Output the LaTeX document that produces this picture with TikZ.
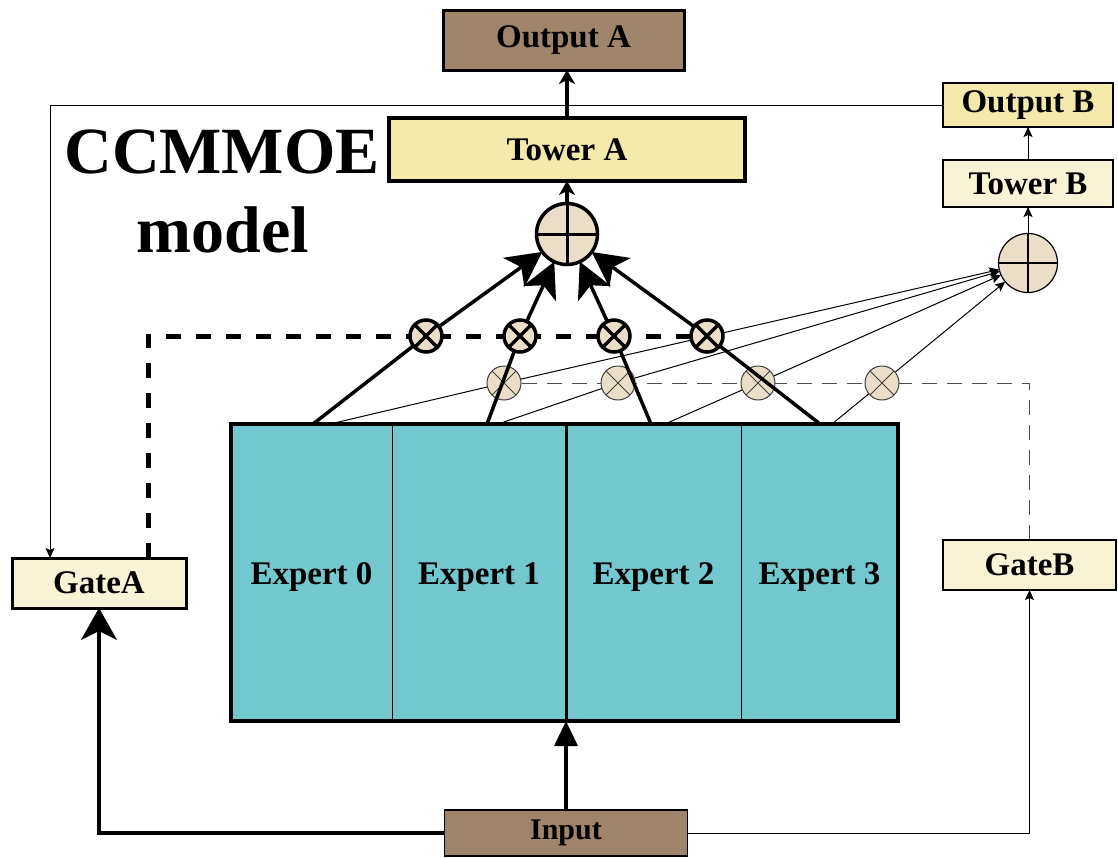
\documentclass[tikz,border=0pt]{standalone}
\usepackage{fontspec}
\setmainfont{Liberation Serif}
\usetikzlibrary{arrows.meta}
\definecolor{brownbox}{RGB}{158,132,104}
\definecolor{yel}{RGB}{242,233,170}
\definecolor{pale}{RGB}{249,243,214}
\definecolor{teal2}{RGB}{115,199,206}
\definecolor{beige}{RGB}{235,222,200}
\pgfdeclarelayer{bg}
\pgfdeclarelayer{front}
\pgfsetlayers{bg,main,front}
\tikzset{
  lbl/.style={font=\fontsize{33}{36}\selectfont\bfseries, inner sep=0pt, outer sep=0pt},
  thickbox/.style={lbl, draw, line width=3pt},
  thinbox/.style={lbl, draw, line width=1.2pt},
  expert/.style={lbl, fill=teal2, minimum height=297pt, text height=24pt, text depth=0pt},
  title/.style={font=\fontsize{66}{70}\selectfont\bfseries, inner sep=0pt},
  multA/.style={circle, draw, line width=3.5pt, fill=beige, minimum size=32pt, inner sep=0pt, outer sep=0pt,
    path picture={\draw[line width=3.5pt] (path picture bounding box.south west) -- (path picture bounding box.north east)
      (path picture bounding box.north west) -- (path picture bounding box.south east);}},
  multB/.style={circle, draw=black!75, line width=1pt, fill=beige, minimum size=34pt, inner sep=0pt, outer sep=0pt,
    path picture={\draw[line width=1pt] (path picture bounding box.south west) -- (path picture bounding box.north east)
      (path picture bounding box.north west) -- (path picture bounding box.south east);}},
  plusA/.style={circle, draw, line width=3.5pt, fill=beige, minimum size=61pt, inner sep=0pt, outer sep=0pt,
    path picture={\draw[line width=3pt] (path picture bounding box.west) -- (path picture bounding box.east)
      (path picture bounding box.north) -- (path picture bounding box.south);}},
  plusB/.style={circle, draw, line width=1.2pt, fill=beige, minimum size=59pt, inner sep=0pt, outer sep=0pt,
    path picture={\draw[line width=1.5pt] (path picture bounding box.west) -- (path picture bounding box.east)
      (path picture bounding box.north) -- (path picture bounding box.south);}},
  thickline/.style={line width=3.5pt},
  thinline/.style={line width=1pt},
  bigtip/.style={-{Stealth[length=35pt,width=36pt,inset=9pt]}},
  smalltip/.style={-{Stealth[length=14pt,width=16pt,inset=4pt]}},
  thintip/.style={-{Stealth[length=10pt,width=9pt,inset=2pt]}},
  dashA/.style={line width=5pt, dash pattern=on 15pt off 15pt},
  dashB/.style={line width=1pt, draw=black!70, dash pattern=on 15pt off 10pt},
}
\begin{document}
\begin{tikzpicture}[x=1pt,y=-1pt]
\path[use as bounding box] (0,0) rectangle (1118,857);
\begin{pgfonlayer}{bg}
\fill[white] (0,0) rectangle (1118,857);
\end{pgfonlayer}

% boxes
\node[thickbox, fill=brownbox, minimum width=241pt, minimum height=60pt] (outA) at (563.5,40) {Output A};
\node[thickbox, line width=3.5pt, fill=yel, minimum width=356pt, minimum height=63pt] (towA) at (567,149.5) {Tower A};
\node[thinbox, fill=yel, minimum width=170pt, minimum height=44pt] (outB) at (1028,105) {Output B};
\node[thinbox, fill=pale, minimum width=170pt, minimum height=47pt] (towB) at (1028,183.5) {Tower B};
\node[thickbox, fill=pale, minimum width=174pt, minimum height=50pt] (gateA) at (99,583) {GateA};
\node[thinbox, fill=pale, minimum width=173pt, minimum height=50pt] (gateB) at (1029.5,565) {GateB};
\node[thinbox, fill=brownbox, minimum width=243pt, minimum height=46pt, font=\fontsize{30}{34}\selectfont\bfseries] (input) at (566,833) {Input};

% title
\node[title, anchor=base] (t1) at (222,173) {CCMMOE};
\node[title, anchor=base] (t2) at (223,252) {model};

% experts
\node[expert, minimum width=161pt] (e0) at (311.5,572.5) {Expert 0};
\node[expert, minimum width=174pt] (e1) at (479,572.5) {Expert 1};
\node[expert, minimum width=175pt] (e2) at (653.5,572.5) {Expert 2};
\node[expert, minimum width=157pt] (e3) at (819.5,572.5) {Expert 3};
\draw[line width=1pt] (e0.north east) -- (e0.south east);
\draw[line width=3pt] (e1.north east) -- (e1.south east);
\draw[line width=1pt] (e2.north east) -- (e2.south east);
\draw[line width=3.5pt] (e0.north west) rectangle (e3.south east);

% sum circles
\node[plusA] (pA) at (567,234) {};
\node[plusB] (pB) at (1028,263) {};

% light (gate B) multipliers
\node[multB] (mB0) at (504,383) {};
\node[multB] (mB1) at (618,383) {};
\node[multB] (mB2) at (758,383) {};
\node[multB] (mB3) at (882,383) {};

% heavy (gate A) multipliers
\begin{pgfonlayer}{front}
\node[multA] (mA0) at (426,336) {};
\node[multA] (mA1) at (520,336) {};
\node[multA] (mA2) at (614,336) {};
\node[multA] (mA3) at (707,336) {};
\end{pgfonlayer}

% coordinates on expert tops
\coordinate (t0) at (313,424);
\coordinate (tt1) at (487,424);
\coordinate (tt2) at (651,424);
\coordinate (tt3) at (820,424);
\coordinate (s0) at (330,424);
\coordinate (s1) at (498,424);
\coordinate (s2) at (665,424);
\coordinate (s3) at (832,424);
\coordinate (dA) at (148,336);
\coordinate (gAx) at (50,0);

% thin connections to B (background)
\begin{pgfonlayer}{bg}
\draw[dashB] (gateB.north) |- (mB0.center);
\draw[thinline] (s0) -- (mB0.center);
\draw[thinline] (s1) -- (mB1.center);
\draw[thinline] (s2) -- (mB2.center);
\draw[thinline] (s3) -- (mB3.center);
\draw[thinline, thintip] (mB0) -- (pB);
\draw[thinline, thintip] (mB1) -- (pB);
\draw[thinline, thintip] (mB2) -- (pB);
\draw[thinline, thintip] (mB3) -- (pB);
\end{pgfonlayer}

% thick connections to A
\draw[dashA] (gateA.north -| dA) -- (dA) -- (mA3.center);
\draw[thickline] (t0) -- (mA0.center);
\draw[thickline] (tt1) -- (mA1.center);
\draw[thickline] (tt2) -- (mA2.center);
\draw[thickline] (tt3) -- (mA3.center);
\draw[thickline, bigtip] (mA0) -- (pA);
\draw[thickline, bigtip] (mA1) -- (pA);
\draw[thickline, bigtip] (mA2) -- (pA);
\draw[thickline, bigtip] (mA3) -- (pA);

% towers and outputs
\draw[thickline, smalltip] (pA.north) -- (towA.south);
\draw[thickline, smalltip] (towA.north) -- (towA.north |- outA.south);
\draw[thinline, thintip] (pB.north) -- (towB.south);
\draw[thinline, thintip] (towB.north) -- (outB.south);
\draw[thinline, thintip] (outB.west) -- (outB.west -| gAx) -- (gateA.north -| gAx);

% input
\draw[thickline, -{Triangle[length=25pt,width=23pt]}] (input.north) -- (e1.south east);
\draw[thickline, -{Stealth[length=32pt,width=36pt,inset=9pt]}] (input.west) -| (gateA.south);
\draw[thinline, thintip] (input.east) -| (gateB.south);
\end{tikzpicture}
\end{document}
